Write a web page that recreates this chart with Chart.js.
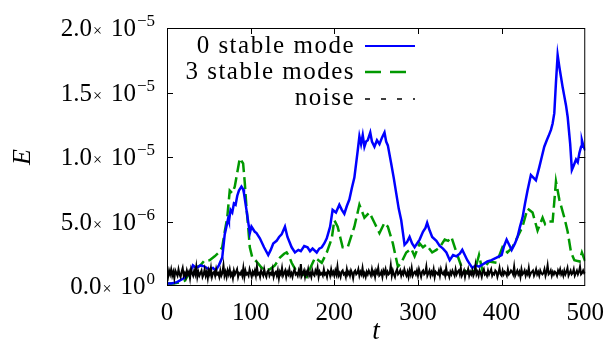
<!DOCTYPE html>
<html>
<head>
<meta charset="utf-8">
<script src="https://cdn.jsdelivr.net/npm/chart.js@4.4.0/dist/chart.umd.min.js"></script>
<style>
    html, body { margin: 0; padding: 0; background: #fff; }
    #wrap { width: 608px; height: 342px; }
</style>
</head>
<body>
<div id="wrap"><canvas id="chart" width="608" height="342"></canvas></div>
<script>
// values are in units of 1e-6
let unit = 1e-6

let modeZeroT = [0, 5, 12, 20, 28, 31, 35, 40, 45, 50, 55, 58, 62, 66, 69, 71, 73, 74, 76, 78,
    80, 82, 84, 86, 89, 91, 92, 95, 99, 101, 103, 105, 107, 111, 116, 121, 124, 127, 131, 134,
    137, 141, 144, 149, 153, 157, 160, 164, 168, 171, 174, 179, 182, 185, 188, 191, 195, 198, 202, 206,
    209, 212, 215, 218, 221, 224, 228, 230, 232, 234, 236, 238, 240, 243, 245, 248, 251, 254, 257, 260,
    262, 264, 268, 271, 274, 277, 280, 284, 287, 290, 293, 296, 299, 302, 306, 309, 311, 314, 317, 322,
    326, 330, 334, 338, 342, 346, 350, 353, 356, 359, 362, 365, 369, 373, 378, 383, 388, 394, 400, 403,
    406, 409, 412, 416, 419, 422, 425, 428, 431, 433, 435, 438, 441, 445, 448, 451, 454, 456, 459, 461,
    463, 465, 467, 469, 471, 473, 475, 477, 479, 482, 484, 486, 489, 491, 493, 495, 496, 498, 500]
let modeZeroE = [0.2, 0.2, 0.3, 0.6, 1.1, 1.6, 1.4, 1.6, 1.5, 1.3, 1.4, 1.2, 1.6, 2.2, 4.0, 4.6, 5.2, 5.0, 5.9, 5.7,
    6.4, 6.3, 7.0, 7.4, 7.7, 7.5, 7.2, 5.9, 4.1, 4.6, 4.4, 4.2, 4.1, 3.7, 3.0, 2.4, 2.8, 3.3, 3.5, 3.8,
    4.0, 4.6, 3.8, 3.0, 2.6, 2.8, 2.7, 3.1, 3.0, 2.7, 2.9, 2.6, 2.9, 3.0, 3.3, 3.7, 4.6, 5.9, 5.7, 6.3,
    5.9, 5.6, 6.2, 6.7, 7.6, 8.4, 10.5, 11.6, 11.0, 11.7, 10.8, 11.2, 11.3, 11.9, 11.2, 10.8, 11.3, 11.0, 11.5, 11.9,
    11.2, 10.9, 9.5, 8.4, 7.2, 6.0, 5.1, 3.2, 3.4, 3.8, 3.3, 3.0, 3.3, 3.6, 4.2, 4.5, 4.9, 4.3, 3.8, 3.5,
    3.1, 2.9, 2.6, 2.0, 2.4, 2.3, 2.5, 2.8, 2.4, 2.0, 1.7, 1.4, 1.6, 1.5, 1.7, 1.9, 2.0, 2.2, 2.4, 3.1,
    3.6, 3.2, 2.8, 3.3, 3.8, 4.6, 5.3, 6.4, 7.4, 8.0, 8.6, 8.4, 8.2, 9.2, 10.0, 10.8, 11.3, 11.6, 12.1, 12.6,
    13.4, 15.8, 17.9, 17.0, 16.2, 15.4, 14.7, 14.0, 13.1, 11.0, 9.0, 9.3, 9.8, 9.6, 10.3, 10.8, 11.3, 10.8, 10.5]

let modeThreeT = [0, 8, 16, 21, 26, 33, 40, 45, 51, 57, 62, 66, 69, 72, 75, 78, 81, 84, 87, 91,
    93, 95, 97, 99, 102, 107, 112, 117, 123, 129, 135, 140, 143, 146, 149, 155, 159, 163, 167, 172,
    177, 181, 185, 191, 197, 200, 204, 207, 210, 216, 220, 224, 230, 233, 236, 242, 248, 254, 260, 264,
    270, 276, 280, 286, 292, 296, 302, 306, 310, 317, 322, 326, 332, 336, 340, 346, 352, 359, 364, 368,
    373, 377, 385, 394, 401, 407, 413, 419, 425, 431, 437, 443, 449, 452, 455, 461, 465, 469, 475, 479,
    483, 487, 493, 496, 500]
let modeThreeE = [0.2, 0.2, 0.3, 0.4, 0.9, 1.4, 1.6, 2.0, 2.0, 2.3, 2.6, 3.0, 4.2, 5.3, 7.4, 7.2, 7.7, 8.8, 9.9, 9.5,
    8.0, 6.1, 4.6, 3.0, 2.2, 1.9, 1.5, 1.2, 1.3, 1.6, 2.2, 2.5, 2.6, 2.3, 1.8, 1.1, 1.2, 0.9, 0.7, 1.5,
    2.2, 2.0, 1.8, 2.6, 3.7, 5.1, 4.6, 3.8, 3.0, 3.0, 3.8, 4.6, 6.3, 5.8, 5.3, 5.7, 4.9, 4.1, 4.9, 4.6,
    3.3, 1.5, 1.8, 2.6, 2.9, 2.3, 3.3, 3.0, 3.2, 2.6, 2.8, 3.0, 3.6, 3.5, 3.8, 2.6, 1.5, 1.0, 1.1, 1.2,
    2.4, 1.2, 1.9, 1.8, 3.0, 2.6, 3.0, 3.8, 4.6, 6.0, 5.7, 4.3, 5.3, 4.8, 5.0, 5.0, 8.1, 6.7, 5.3, 4.2,
    2.6, 2.0, 1.9, 2.6, 1.9]

// noise sampled every 1.25 in t
let noiseStep = 1.25
let noiseE = [
    1.0, 0.7, 1.2, 0.9, 1.3, 0.8, 1.1, 0.6, 1.2, 1.0,
    0.8, 1.3, 0.9, 0.7, 1.1, 1.4, 0.8, 1.0, 0.7, 1.2,
    0.9, 1.1, 0.6, 1.3, 1.0, 0.8, 1.2, 0.9, 1.5, 0.7,
    1.1, 0.8, 1.0, 1.2, 0.7, 0.9, 1.3, 0.8, 1.1, 0.6,
    1.2, 0.9, 1.4, 0.7, 1.0, 1.1, 0.8, 1.3, 0.9, 1.0,
    0.7, 1.2, 0.8, 1.0, 1.6, 0.8, 1.1, 0.7, 1.2, 0.9,
    1.3, 0.8, 1.0, 0.6, 1.2, 0.9, 1.1, 1.3, 0.7, 1.0,
    0.9, 1.1, 0.8, 1.4, 0.7, 1.2, 0.9, 1.0, 0.8, 1.3,
    1.0, 0.7, 1.1, 0.9, 1.2, 0.8, 1.5, 0.9, 1.0, 0.7,
    1.2, 1.0, 0.8, 1.3, 0.9, 0.7, 1.1, 1.2, 0.8, 1.0,
    0.9, 1.3, 0.7, 1.0, 1.1, 0.8, 1.2, 0.6, 1.1, 0.9,
    1.4, 0.8, 1.0, 1.2, 0.7, 1.1, 0.9, 1.3, 0.8, 1.0,
    0.7, 1.1, 1.3, 0.9, 1.0, 0.8, 1.2, 0.9, 1.7, 0.8,
    1.0, 1.2, 0.7, 1.1, 0.9, 1.3, 0.8, 1.0, 0.7, 1.2,
    0.9, 0.8, 1.2, 1.0, 1.4, 0.7, 1.1, 0.9, 1.0, 0.8,
    1.3, 0.9, 1.0, 0.7, 1.2, 1.1, 0.8, 1.3, 0.9, 1.1,
    0.8, 1.2, 0.9, 1.5, 0.8, 1.0, 0.7, 1.1, 1.2, 0.9,
    1.0, 0.7, 1.3, 0.9, 1.1, 0.8, 1.2, 1.0, 0.6, 1.1,
    1.2, 0.9, 1.0, 1.3, 0.8, 1.1, 0.9, 1.4, 0.8, 1.0,
    0.7, 1.1, 0.9, 1.2, 1.0, 0.8, 1.3, 0.9, 1.1, 0.7,
    1.2, 1.0, 1.4, 0.8, 0.9, 1.1, 0.7, 1.2, 1.0, 1.3,
    0.8, 1.1, 0.9, 1.0, 1.6, 0.8, 1.2, 0.9, 0.7, 1.1,
    1.3, 0.9, 1.0, 1.2, 0.8, 1.1, 0.9, 1.3, 1.0, 0.8,
    1.1, 0.7, 1.2, 0.9, 1.4, 0.8, 1.0, 1.1, 0.9, 1.2,
    0.8, 1.3, 1.0, 0.7, 1.1, 1.2, 0.9, 1.0, 1.5, 0.8,
    1.0, 1.2, 0.8, 1.1, 0.9, 1.3, 0.7, 1.1, 1.0, 0.9,
    1.2, 0.8, 1.3, 1.0, 0.9, 1.1, 0.8, 1.4, 0.9, 1.0,
    0.7, 1.1, 0.9, 1.2, 1.0, 0.8, 1.3, 0.9, 1.1, 1.2,
    0.9, 1.4, 0.8, 1.0, 1.2, 0.7, 1.1, 1.0, 1.3, 0.8,
    1.1, 0.9, 1.2, 0.8, 1.0, 1.6, 0.9, 1.1, 0.8, 1.2,
    1.0, 0.7, 1.1, 1.3, 0.9, 1.0, 0.8, 1.2, 0.9, 1.1,
    1.3, 0.8, 1.0, 0.9, 1.2, 1.1, 0.7, 1.0, 1.4, 0.9,
    0.8, 1.2, 0.9, 1.1, 1.0, 0.8, 1.3, 0.9, 1.0, 1.2,
    1.1, 0.9, 1.5, 0.8, 1.0, 1.2, 0.9, 1.1, 0.7, 1.3,
    0.9, 1.0, 1.2, 0.8, 1.1, 0.9, 1.4, 0.8, 1.0, 1.1,
    1.2, 0.8, 1.0, 1.3, 0.9, 1.1, 0.8, 1.2, 1.0, 0.9,
    1.0, 1.3, 0.8, 1.1, 1.6, 0.9, 1.0, 1.2, 0.8, 1.1,
    0.9, 1.1, 1.0, 0.8, 1.2, 1.0, 1.3, 0.9, 1.1, 0.8,
    1.2, 0.9, 1.1, 1.4, 0.8, 1.0, 1.2, 0.9, 1.0, 1.3,
    0.8, 1.0, 1.2, 0.9, 1.1, 1.5, 0.9, 1.0, 1.2, 1.0,
    1.1]

let seriesLabels = ['0 stable mode', '3 stable modes', 'noise']
let xTicks = [0, 100, 200, 300, 400, 500]
let yTicks = [0, 5e-6, 1e-5, 1.5e-5, 2e-5]

let serif = "'Liberation Serif', 'Times New Roman', serif"

let toPoints = (ts, es) => ts.map((t, i) => ({ x: t, y: es[i] * unit }))
let noisePoints = noiseE.map((e, i) => ({ x: i * noiseStep, y: e * unit }))

// frame, inward ticks, y labels, y title, legend
let decorations = {
    id: 'decorations',
    afterDraw(chart) {
        let { ctx, chartArea: a, scales: { x, y } } = chart
        ctx.save()
        ctx.strokeStyle = '#000'
        ctx.lineWidth = 1
        ctx.strokeRect(a.left + 0.5, a.top + 0.5, a.right - a.left - 1, a.bottom - a.top - 1)

        ctx.beginPath()
        xTicks.slice(1, -1).forEach(v => {
            let px = Math.round(x.getPixelForValue(v)) + 0.5
            ctx.moveTo(px, a.bottom); ctx.lineTo(px, a.bottom - 6)
            ctx.moveTo(px, a.top); ctx.lineTo(px, a.top + 6)
        })
        yTicks.slice(1, -1).forEach(v => {
            let py = Math.round(y.getPixelForValue(v)) + 0.5
            ctx.moveTo(a.left, py); ctx.lineTo(a.left + 6, py)
            ctx.moveTo(a.right, py); ctx.lineTo(a.right - 6, py)
        })
        ctx.stroke()

        // y tick labels as m.m x 10^e
        ctx.fillStyle = '#000'
        ctx.textBaseline = 'alphabetic'
        yTicks.forEach(v => {
            let exp = v == 0 ? 0 : Math.floor(Math.log10(v))
            let mant = (v / Math.pow(10, exp)).toFixed(1)
            let sup = exp < 0 ? '\u2212' + (-exp) : String(exp)
            let py = y.getPixelForValue(v)
            let base = py + 8
            let right = 155
            ctx.font = `17px ${serif}`
            let wSup = ctx.measureText(sup).width
            ctx.font = `25px ${serif}`
            let wTen = ctx.measureText('10').width
            let wMant = ctx.measureText(mant).width
            ctx.font = `16px ${serif}`
            let wTimes = ctx.measureText('\u00d7').width

            let xs = right - wSup
            ctx.font = `17px ${serif}`
            ctx.fillText(sup, xs, base - 10)
            let xt = xs - 1 - wTen
            ctx.font = `25px ${serif}`
            ctx.fillText('10', xt, base)
            let xx = xt - 9 - wTimes
            ctx.font = `16px ${serif}`
            ctx.fillText('\u00d7', xx, base)
            ctx.font = `25px ${serif}`
            ctx.fillText(mant, xx - 1 - wMant, base)
        })

        // y title
        ctx.save()
        ctx.translate(23, (a.top + a.bottom) / 2)
        ctx.rotate(-Math.PI / 2)
        ctx.font = `italic 26px ${serif}`
        ctx.textAlign = 'center'
        ctx.textBaseline = 'middle'
        ctx.fillText('E', 0, 0)
        ctx.restore()

        // legend, text on the left, sample line on the right
        let rows = [53, 79, 105]
        let lineY = [46, 72, 99]
        chart.data.datasets.forEach((ds, i) => {
            ctx.font = `25px ${serif}`
            ctx.letterSpacing = '1.5px'
            ctx.textAlign = 'right'
            ctx.fillStyle = '#000'
            ctx.fillText(ds.label, 355, rows[i])
            ctx.letterSpacing = '0px'
            ctx.beginPath()
            ctx.strokeStyle = ds.borderColor
            ctx.lineWidth = ds.legendWidth
            ctx.setLineDash(ds.legendDash)
            ctx.moveTo(365, lineY[i])
            ctx.lineTo(415, lineY[i])
            ctx.stroke()
            ctx.setLineDash([])
        })
        ctx.restore()
    }
}

new Chart(document.getElementById('chart'), {
    type: 'line',
    data: {
        datasets: [
            {
                label: seriesLabels[0],
                data: toPoints(modeZeroT, modeZeroE),
                borderColor: '#0000ff',
                borderWidth: 2.5,
                legendWidth: 2,
                legendDash: [],
                order: 1
            },
            {
                label: seriesLabels[1],
                data: toPoints(modeThreeT, modeThreeE),
                borderColor: '#009900',
                borderWidth: 2.5,
                borderDash: [12, 5],
                legendWidth: 2.5,
                legendDash: [16, 9],
                order: 2
            },
            {
                label: seriesLabels[2],
                data: noisePoints,
                borderColor: '#000000',
                borderWidth: 2,
                legendWidth: 1.5,
                legendDash: [5, 11],
                order: 0
            }
        ]
    },
    options: {
        responsive: false,
        animation: false,
        elements: { point: { radius: 0 }, line: { tension: 0 } },
        layout: { padding: { top: 28, right: 22, left: 0, bottom: 0 } },
        plugins: { legend: { display: false }, tooltip: { enabled: false } },
        scales: {
            x: {
                type: 'linear',
                min: 0,
                max: 500,
                grid: { display: false },
                border: { display: false },
                afterBuildTicks: (scale) => { scale.ticks = xTicks.map(v => ({ value: v })) },
                afterFit: (scale) => { scale.height = 56 },
                ticks: {
                    color: '#000',
                    padding: 4,
                    maxRotation: 0,
                    font: { family: serif, size: 25 }
                },
                title: {
                    display: true,
                    text: 't',
                    color: '#000',
                    padding: { top: 0, bottom: -3 },
                    font: { family: serif, size: 27, style: 'italic', lineHeight: 1 }
                }
            },
            y: {
                type: 'linear',
                min: 0,
                max: 2e-5,
                grid: { display: false },
                border: { display: false },
                afterBuildTicks: (scale) => { scale.ticks = yTicks.map(v => ({ value: v })) },
                afterFit: (scale) => { scale.width = 167 },
                ticks: { display: false }
            }
        }
    },
    plugins: [decorations]
})
</script>
</body>
</html>
